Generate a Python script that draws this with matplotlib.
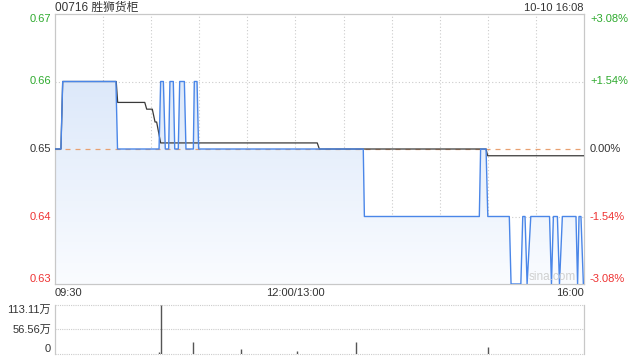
import matplotlib
matplotlib.use('Agg')
import matplotlib.pyplot as plt
import numpy as np
from matplotlib.patches import Polygon
from matplotlib.colors import LinearSegmentedColormap

plt.rcParams['font.family'] = ['Liberation Sans', 'Noto Sans CJK SC', 'DejaVu Sans']

title = "00716 胜狮货柜"
stamp = "10-10 16:08"
prev_close = 0.65
price_ticks = [0.63, 0.64, 0.65, 0.66, 0.67]
price_labels = ["0.63", "0.64", "0.65", "0.66", "0.67"]
pct_labels = ["-3.08%", "-1.54%", "0.00%", "+1.54%", "+3.08%"]
time_labels = ["09:30", "12:00/13:00", "16:00"]
time_label_pos = [0, 150, 330]

# price line vertices (minutes from 09:30, trading minutes only)
price_t = [0, 3.7, 4.8, 38, 39, 64.9, 65.9, 67.6, 68.8, 70.9, 71.7, 73.8, 74.7,
           76.9, 77.8, 80.7, 81.7, 86.3, 86.9, 88.6, 89.6, 192.3, 193, 264.7,
           265.5, 268.9, 270, 283.4, 284.5, 290.6, 291.8, 293.2, 294.5, 296.8,
           308.5, 309.7, 310.9, 313.4, 314.7, 316.5, 325, 326, 326.9, 328.1,
           329.6, 330]
price_v = [0.65, 0.65, 0.66, 0.66, 0.65, 0.65, 0.66, 0.66, 0.65, 0.65, 0.66, 0.66, 0.65,
           0.65, 0.66, 0.66, 0.65, 0.65, 0.66, 0.66, 0.65, 0.65, 0.64, 0.64,
           0.65, 0.65, 0.64, 0.64, 0.63, 0.63, 0.64, 0.64, 0.63, 0.64,
           0.64, 0.63, 0.64, 0.64, 0.63, 0.64, 0.64, 0.63, 0.64, 0.64,
           0.63, 0.63]

# average price line vertices
avg_t = [0, 3.7, 4.8, 38.2, 39.1, 56, 57.2, 60.7, 62.4, 63.4, 65.9, 163.6, 164.9,
         268.9, 269.9, 330]
avg_v = [0.65, 0.65, 0.66, 0.66, 0.6569, 0.6569, 0.6559, 0.6559, 0.6540, 0.6540,
         0.6509, 0.6509, 0.6500, 0.6500, 0.6490, 0.6490]

# volume (万)
vol_t = [65, 66, 86, 116, 151, 188, 270]
vol_v = [4.6, 113.11, 28.4, 10.8, 7.0, 28.4, 15.5]
vol_ticks = [0, 56.56, 113.11]
vol_labels = ["0", "56.56万", "113.11万"]

GREEN = '#2eaa2e'
RED = '#ee3333'
DARK = '#333333'
GRID = '#cccccc'
SPINE = '#c8c8c8'

fig = plt.figure(figsize=(6.4, 3.6), dpi=100)
ax = fig.add_axes([55/640, 1-284/360, 529/640, 270/360])
axv = fig.add_axes([55/640, 1-354/360, 529/640, 49/360])

ax.set_xlim(0, 330)
ax.set_ylim(0.63, 0.67)

# gradient fill under the price line
cmap = LinearSegmentedColormap.from_list('g', ['#fafcff', '#d3e2f8'])
grad = np.linspace(0, 1, 256).reshape(-1, 1)
im = ax.imshow(grad, cmap=cmap, extent=[0, 330, 0.63, 0.67], origin='lower',
               aspect='auto', zorder=1)
poly_pts = list(zip(price_t, price_v)) + [(330, 0.63), (0, 0.63)]
poly = Polygon(poly_pts, closed=True, transform=ax.transData, facecolor='none', edgecolor='none')
im.set_clip_path(poly)

# grid
for t in range(30, 330, 30):
    ax.axvline(t, color=GRID, lw=0.8, ls=(0, (1, 2)), zorder=0.5)
for p in [0.64, 0.66]:
    ax.axhline(p, color=GRID, lw=0.8, ls=(0, (1, 2)), zorder=0.5)

ax.axhline(prev_close, color='#e8a070', lw=0.9, ls=(0, (4, 4)), zorder=2)
ax.plot(avg_t, avg_v, color='#3a3a3a', lw=0.9, zorder=3)
ax.plot(price_t, price_v, color='#4a86e8', lw=1.0, zorder=4)

ax.set_xticks([])
ax.set_yticks([])
for s in ax.spines.values():
    s.set_color(SPINE)
    s.set_linewidth(0.9)

# y labels
colors = [RED, RED, DARK, GREEN, GREEN]
vas = ['bottom', 'center', 'center', 'center', 'top']
for p, lab, pl, c, va in zip(price_ticks, price_labels, pct_labels, colors, vas):
    ax.annotate(lab, xy=(0, p), xycoords=('axes fraction', 'data'), xytext=(-4, 0),
                textcoords='offset pixels', ha='right', va=va, color=c, fontsize=8)
    ax.annotate(pl, xy=(1, p), xycoords=('axes fraction', 'data'), xytext=(6, 0),
                textcoords='offset pixels', ha='left', va=va, color=c, fontsize=8)

# time labels
has = ['left', 'center', 'right']
for t, lab, ha in zip(time_label_pos, time_labels, has):
    ax.annotate(lab, xy=(t, 0), xycoords=('data', 'axes fraction'), xytext=(0, -4),
                textcoords='offset pixels', ha=ha, va='top', color=DARK, fontsize=8)

fig.text(55/640, 1-8/360, title, ha='left', va='center', color=DARK, fontsize=8.5)
fig.text(584/640, 1-8/360, stamp, ha='right', va='center', color=DARK, fontsize=8)
ax.text(0.985, 0.005, 'sina.com', transform=ax.transAxes, ha='right', va='bottom',
        color='#d0d0d0', fontsize=8.5, zorder=5)

# volume
axv.set_xlim(0, 330)
axv.set_ylim(0, 113.11)
axv.vlines(vol_t, 0, vol_v, color='#555555', lw=1.0)
for v in vol_ticks:
    axv.axhline(v, color=GRID, lw=0.8, ls=(0, (1, 1)), zorder=0.5, clip_on=False)
axv.set_xticks([])
axv.set_yticks([])
for k in ['top', 'bottom']:
    axv.spines[k].set_visible(False)
for k in ['left', 'right']:
    axv.spines[k].set_color(SPINE)
    axv.spines[k].set_linewidth(0.9)
vvas = ['bottom', 'center', 'top']
for v, lab, va in zip(vol_ticks, vol_labels, vvas):
    axv.annotate(lab, xy=(0, v), xycoords=('axes fraction', 'data'), xytext=(-4, 0),
                 textcoords='offset pixels', ha='right', va=va, color=DARK, fontsize=8)

fig.savefig('out.png', dpi=100)
